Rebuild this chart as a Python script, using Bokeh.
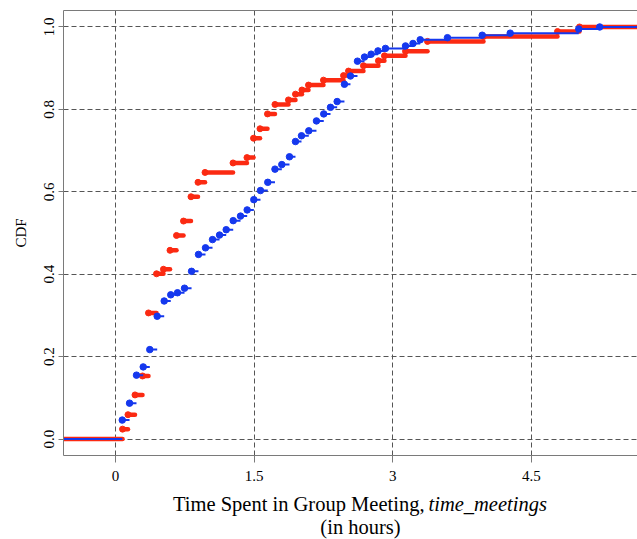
from bokeh.plotting import figure
from bokeh.models import LinearAxis, FixedTicker
from bokeh.layouts import column
from bokeh.core.properties import value
from bokeh.embed import file_html
from bokeh.resources import INLINE

# ---- data ----
blue_x = [0.073, 0.152, 0.227, 0.300, 0.371, 0.451, 0.527, 0.598, 0.671, 0.747,
          0.823, 0.898, 0.974, 1.050, 1.126, 1.198, 1.274, 1.353, 1.425, 1.497,
          1.569, 1.648, 1.726, 1.800, 1.883, 1.948, 2.013, 2.092, 2.175, 2.254,
          2.327, 2.399, 2.478, 2.543, 2.619, 2.695, 2.767, 2.841, 2.922, 3.139,
          3.220, 3.298, 3.593, 3.969, 4.272, 5.014, 5.241]
blue_y = [0.046, 0.087, 0.155, 0.175, 0.217, 0.298, 0.335, 0.350, 0.355, 0.366,
          0.407, 0.448, 0.464, 0.484, 0.495, 0.508, 0.530, 0.541, 0.556, 0.581,
          0.603, 0.623, 0.655, 0.666, 0.685, 0.722, 0.736, 0.748, 0.772, 0.789,
          0.805, 0.819, 0.861, 0.881, 0.917, 0.927, 0.934, 0.942, 0.948, 0.954,
          0.960, 0.969, 0.974, 0.980, 0.985, 0.995, 1.000]

red_x = [0.076, 0.135, 0.211, 0.292, 0.357, 0.444, 0.519, 0.590, 0.660, 0.736,
         0.817, 0.893, 0.969, 1.272, 1.423, 1.494, 1.564, 1.645, 1.726, 1.872,
         1.948, 2.018, 2.089, 2.251, 2.468, 2.522, 2.684, 2.846, 2.911, 3.139,
         3.377, 3.983, 4.784, 5.022]
red_y = [0.024, 0.059, 0.107, 0.153, 0.306, 0.401, 0.412, 0.458, 0.494, 0.529,
         0.588, 0.623, 0.647, 0.670, 0.683, 0.730, 0.753, 0.789, 0.812, 0.823,
         0.837, 0.847, 0.859, 0.871, 0.882, 0.893, 0.906, 0.918, 0.930, 0.941,
         0.965, 0.977, 0.989, 1.000]

x_ticks = [0, 1.5, 3, 4.5]
x_tick_labels = ["0", "1.5", "3", "4.5"]
y_ticks = [0.0, 0.2, 0.4, 0.6, 0.8, 1.0]
y_tick_labels = ["0.0", "0.2", "0.4", "0.6", "0.8", "1.0"]

x_title_main = "Time Spent in Group Meeting,"
x_title_var = "time_meetings"
x_title_unit = "(in hours)"
y_title = "CDF"

RED = "#fb2a12"
BLUE = "#1538ee"
FONT = "Liberation Serif"

X0, X1 = -0.563, 5.65
Y0, Y1 = -0.04, 1.04
W = 637
H_MAIN = 490
H_TITLE = 49
ML, MR, MT, MB = 63, 0, 10, 35

p = figure(width=W, height=H_MAIN, x_range=(X0, X1), y_range=(Y0, Y1),
           output_backend="svg", toolbar_location=None,
           min_border_left=ML, min_border_right=MR, min_border_top=MT,
           min_border_bottom=MB, background_fill_color="white",
           border_fill_color="white")
p.outline_line_color = None

# axes
frame_col = "#7a7a7a"
xa = p.xaxis[0]
xa.ticker = FixedTicker(ticks=x_ticks)
xa.major_label_overrides = {t: l for t, l in zip(x_ticks, x_tick_labels)}
xa.minor_tick_line_color = None
xa.major_tick_in = 0
xa.major_tick_out = 7
xa.major_tick_line_color = frame_col
xa.axis_line_color = frame_col
xa.major_label_text_font = FONT
xa.major_label_text_font_size = "15px"
xa.major_label_text_color = "black"
xa.major_label_standoff = 8

ya = p.yaxis[0]
ya.ticker = FixedTicker(ticks=y_ticks)
ya.major_label_overrides = {t: l for t, l in zip(y_ticks, y_tick_labels)}
ya.minor_tick_line_color = None
ya.major_tick_in = 0
ya.major_tick_out = 5
ya.major_tick_line_color = frame_col
ya.axis_line_color = frame_col
ya.major_label_text_font = FONT
ya.major_label_text_font_size = "15px"
ya.major_label_text_color = "black"
ya.major_label_orientation = "vertical"
ya.major_label_standoff = 4
ya.axis_label = y_title
ya.axis_label_text_font = FONT
ya.axis_label_text_font_style = "normal"
ya.axis_label_text_font_size = "15px"
ya.axis_label_text_color = "black"
ya.axis_label_standoff = 13

top = LinearAxis(ticker=FixedTicker(ticks=[]), axis_line_color=frame_col,
                 major_tick_line_color=None, minor_tick_line_color=None,
                 major_label_text_font_size="0px")
p.add_layout(top, "above")

# grid
for g in (p.xgrid[0], p.ygrid[0]):
    g.grid_line_color = "#555555"
    g.grid_line_dash = "5 3"
    g.grid_line_width = 1
p.xgrid[0].ticker = FixedTicker(ticks=x_ticks)
p.ygrid[0].ticker = FixedTicker(ticks=y_ticks)


def steps(xs, ys):
    x0 = [X0 - 1] + list(xs)
    x1 = list(xs) + [X1 + 1]
    yy = [0.0] + list(ys)
    return x0, x1, yy


rx0, rx1, ryy = steps(red_x, red_y)
p.segment(x0=rx0, x1=rx1, y0=ryy, y1=ryy, line_color=RED, line_width=4.5,
          line_cap="round")
p.scatter(red_x, red_y, size=6, color=RED)

bx0, bx1, byy = steps(blue_x, blue_y)
p.segment(x0=bx0, x1=bx1, y0=byy, y1=byy, line_color=BLUE, line_width=2)
p.scatter(blue_x, blue_y, size=6.5, color=BLUE)

# ---- x-axis title strip (mixed roman / italic) ----
# the column aligns this strip's frame with the main frame (starts at ML)
t = figure(width=W, height=H_TITLE, x_range=(ML, W), y_range=(H_TITLE, 0),
           output_backend="svg", toolbar_location=None,
           x_axis_location=None, y_axis_location=None,
           min_border=0, min_border_left=ML, min_border_right=0,
           min_border_top=0, min_border_bottom=0,
           background_fill_color="white", border_fill_color="white")
t.outline_line_color = None
t.grid.visible = False

split_px = 424
gap_px = 4
center_px = 360
t.text(x=[split_px], y=[13], text=[x_title_main], text_align="right",
       text_baseline="middle", text_font=value(FONT), text_font_size="20.5px",
       text_color="black")
t.text(x=[split_px + gap_px], y=[13], text=[x_title_var], text_align="left",
       text_baseline="middle", text_font=value(FONT), text_font_size="20.5px",
       text_font_style="italic", text_color="black")
t.text(x=[center_px], y=[36], text=[x_title_unit], text_align="center",
       text_baseline="middle", text_font=value(FONT), text_font_size="20.5px",
       text_color="black")

layout = column(p, t, spacing=0)
open("out.html", "w").write(file_html(layout, INLINE))
